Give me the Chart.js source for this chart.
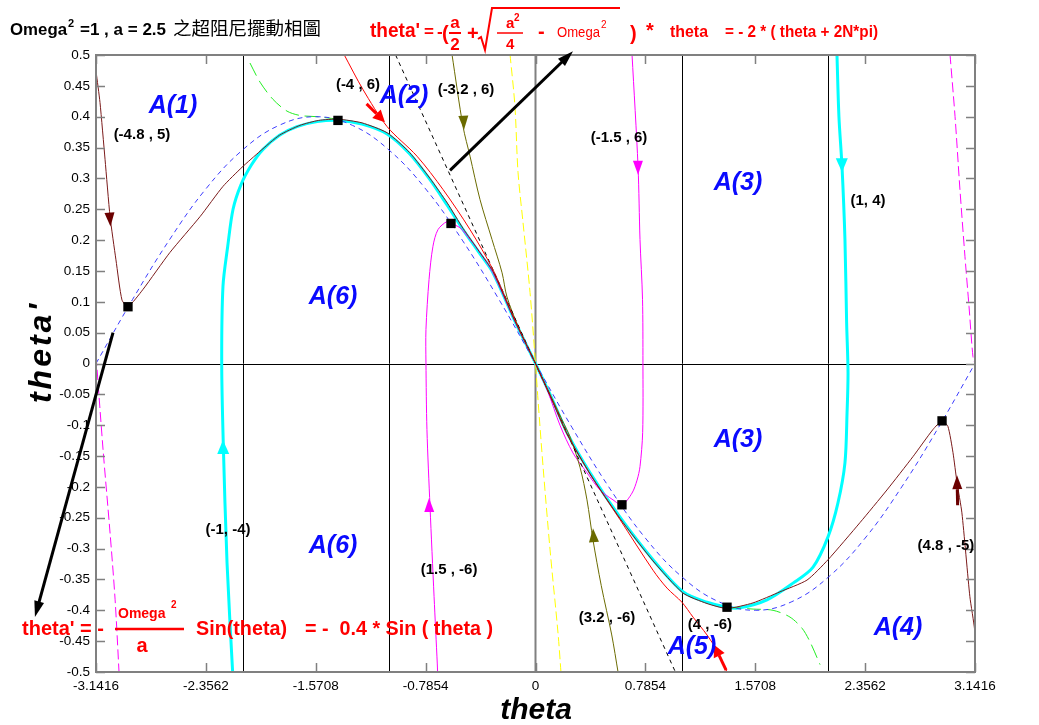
<!DOCTYPE html>
<html>
<head>
<meta charset="utf-8">
<script src="https://cdn.jsdelivr.net/npm/chart.js@4.4.0/dist/chart.umd.min.js"></script>
<style>
  body { margin: 0; background: #fff; }
</style>
</head>
<body>
<canvas id="phaseChart" width="1039" height="725"></canvas>
<script>
// axis ticks
const xTickValues = [-3.1416, -2.3562, -1.5708, -0.7854, 0, 0.7854, 1.5708, 2.3562, 3.1416]
const xTickLabels = ['-3.1416', '-2.3562', '-1.5708', '-0.7854', '0', '0.7854', '1.5708', '2.3562', '3.1416']
const yTickValues = [-0.5, -0.45, -0.4, -0.35, -0.3, -0.25, -0.2, -0.15, -0.1, -0.05, 0, 0.05, 0.1, 0.15, 0.2, 0.25, 0.3, 0.35, 0.4, 0.45, 0.5]
const yTickLabels = ['-0.5', '-0.45', '-0.4', '-0.35', '-0.3', '-0.25', '-0.2', '-0.15', '-0.1', '-0.05', '0', '0.05', '0.1', '0.15', '0.2', '0.25', '0.3', '0.35', '0.4', '0.45', '0.5']
// vertical reference lines (theta = +-pi/3, +-2pi/3)
const refLinesX = [-2.0944, -1.0472, 1.0472, 2.0944]

// theta' = -0.4 sin(theta)  (blue dashed)
const sinTheta = [-3.1416, -2.8798, -2.618, -2.3562, -2.0944, -1.8326, -1.5708, -1.309, -1.0472, -0.7854, -0.5236, -0.2618, 0, 0.2618, 0.5236, 0.7854, 1.0472, 1.309, 1.5708, 1.8326, 2.0944, 2.3562, 2.618, 2.8798, 3.1416]
const sinOmega = [0, 0.104, 0.2, 0.283, 0.346, 0.386, 0.4, 0.386, 0.346, 0.283, 0.2, 0.104, 0, -0.104, -0.2, -0.283, -0.346, -0.386, -0.4, -0.386, -0.346, -0.283, -0.2, -0.104, 0]

// theta' = -0.5 theta (black dashed)
const slowTheta = [-1, 1]
const slowOmega = [0.5, -0.5]

// trajectory from (-1, -4), cyan
const cyanLeftTheta = [-2.165, -2.205, -2.232, -2.243, -2.234, -2.2, -2.162, -2.105, -2.03, -1.948, -1.83, -1.705, -1.56, -1.412, -1.24, -1.061, -0.9, -0.754, -0.63, -0.518, -0.404, -0.304, -0.15, 0]
const cyanLeftOmega = [-0.5, -0.323, -0.128, 0, 0.125, 0.19, 0.25, 0.29, 0.322, 0.347, 0.37, 0.384, 0.392, 0.394, 0.388, 0.372, 0.34, 0.298, 0.256, 0.217, 0.18, 0.147, 0.07, 0]
// trajectory from (1, 4), cyan
const cyanRightTheta = [2.155, 2.169, 2.191, 2.212, 2.224, 2.234, 2.227, 2.212, 2.162, 2.091, 1.984, 1.841, 1.655, 1.462, 1.369, 1.226, 1.054, 0.84, 0.604, 0.39, 0.225, 0.12, 0]
const cyanRightOmega = [0.5, 0.4, 0.319, 0.201, 0.066, -0.015, -0.08, -0.161, -0.226, -0.281, -0.33, -0.356, -0.383, -0.396, -0.395, -0.387, -0.37, -0.318, -0.249, -0.177, -0.112, -0.058, 0]

// trajectory from (-4.8, 5), brown
const brownLeftTheta = [-3.141, -3.113, -3.077, -3.041, -2.999, -2.956, -2.913, -2.806, -2.613, -2.398, -2.234, -2.098, -1.969, -1.83, -1.683, -1.55, -1.412, -1.24, -1.061, -0.9, -0.754, -0.63, -0.518, -0.404, -0.304, -0.15, 0]
const brownLeftOmega = [0.473, 0.423, 0.331, 0.238, 0.168, 0.103, 0.092, 0.12, 0.18, 0.238, 0.287, 0.318, 0.344, 0.37, 0.386, 0.394, 0.396, 0.39, 0.374, 0.342, 0.3, 0.26, 0.219, 0.182, 0.149, 0.07, 0]
// trajectory from (4.8, -5), brown
const brownRightTheta = [3.141, 3.139, 3.105, 3.048, 3.013, 2.984, 2.948, 2.906, 2.841, 2.698, 2.512, 2.319, 2.091, 1.941, 1.748, 1.555, 1.369, 1.226, 1.054, 0.84, 0.604, 0.39, 0.225, 0.12, 0]
const brownRightOmega = [-0.476, -0.432, -0.378, -0.242, -0.193, -0.144, -0.102, -0.093, -0.107, -0.151, -0.205, -0.258, -0.318, -0.351, -0.37, -0.388, -0.397, -0.389, -0.372, -0.32, -0.251, -0.179, -0.114, -0.06, 0]

// trajectories from (-4, 6) and (4, -6), red
const redUpperTheta = [-1.369, -1.233, -1.061, -0.847, -0.661, -0.468, -0.304, -0.15, 0]
const redUpperOmega = [0.501, 0.444, 0.384, 0.336, 0.282, 0.217, 0.152, 0.072, 0]
const redLowerTheta = [1.369, 1.305, 1.226, 1.126, 1.047, 0.94, 0.84, 0.604, 0.39, 0.225, 0.12, 0]
const redLowerOmega = [-0.5, -0.468, -0.44, -0.411, -0.387, -0.364, -0.335, -0.253, -0.179, -0.114, -0.06, 0]

// trajectories from (-3.2, 6) and (3.2, -6), olive
const oliveUpperTheta = [-0.597, -0.518, -0.468, -0.397, -0.311, -0.239, -0.204, -0.12, 0]
const oliveUpperOmega = [0.501, 0.384, 0.336, 0.266, 0.201, 0.147, 0.108, 0.058, 0]
const oliveLowerTheta = [0.59, 0.545, 0.47, 0.411, 0.368, 0.318, 0.247, 0.189, 0.104, 0]
const oliveLowerOmega = [-0.5, -0.44, -0.36, -0.286, -0.221, -0.168, -0.119, -0.091, -0.05, 0]

// fast direction, yellow dashed
const yellowTheta = [-0.182, -0.147, -0.125, -0.089, -0.039, 0, 0.018, 0.054, 0.104, 0.161, 0.182]
const yellowOmega = [0.501, 0.417, 0.31, 0.228, 0.115, 0, -0.059, -0.167, -0.302, -0.437, -0.5]

// trajectories from (-1.5, 6) and (1.5, -6), magenta
const magentaUpperTheta = [0.69, 0.733, 0.747, 0.765, 0.768, 0.766, 0.747, 0.726, 0.69, 0.618, 0.554, 0.461, 0.368, 0.268, 0.175, 0.089, 0]
const magentaUpperOmega = [0.501, 0.319, 0.201, 0.104, 0.001, -0.112, -0.167, -0.189, -0.21, -0.229, -0.221, -0.205, -0.177, -0.145, -0.1, -0.046, 0]
const magentaLowerTheta = [-0.7, -0.702, -0.725, -0.754, -0.776, -0.783, -0.783, -0.761, -0.733, -0.697, -0.633, -0.604, -0.54, -0.468, -0.397, -0.304, -0.15, 0]
const magentaLowerOmega = [-0.5, -0.487, -0.378, -0.232, -0.107, 0.001, 0.055, 0.136, 0.19, 0.217, 0.23, 0.227, 0.22, 0.201, 0.18, 0.147, 0.07, 0]

// edge trajectories, magenta dashed
const magentaEdgeLeftTheta = [-3.141, -3.091, -3.041, -3.005, -2.977]
const magentaEdgeLeftOmega = [0.012, -0.14, -0.275, -0.383, -0.5]
const magentaEdgeRightTheta = [2.963, 2.999, 3.034, 3.07, 3.099, 3.127, 3.141]
const magentaEdgeRightOmega = [0.501, 0.4, 0.282, 0.173, 0.092, 0.011, 0]

// green dashed
const greenUpperTheta = [-2.041, -1.969, -1.876, -1.776, -1.683, -1.562, -1.412]
const greenUpperOmega = [0.487, 0.456, 0.428, 0.409, 0.402, 0.4, 0.396]
const greenLowerTheta = [1.369, 1.555, 1.698, 1.819, 1.905, 1.962, 2.034]
const greenLowerOmega = [-0.395, -0.398, -0.4, -0.411, -0.429, -0.451, -0.488]

// square markers
const markerTheta = [-2.913, -1.412, -0.604, 0.618, 1.369, 2.906]
const markerOmega = [0.092, 0.394, 0.227, -0.229, -0.395, -0.093]

const FONT = '"Liberation Sans", Arial, sans-serif'
const CJK = '"Noto Sans CJK TC", "Noto Sans CJK SC", sans-serif'

const pts = (t, w) => t.map((v, i) => ({ x: v, y: w[i] }))

const curve = (t, w, color, width, dash, order, tension) => ({
    type: 'line',
    data: pts(t, w),
    borderColor: color,
    borderWidth: width,
    borderDash: dash || [],
    pointRadius: 0,
    pointHitRadius: 0,
    fill: false,
    tension: tension === undefined ? 0.3 : tension,
    order: order,
})

// arrow heads on the trajectories, in data units
const curveArrows = [
    { tip: [-3.038, 0.222], from: [-3.063, 0.3], color: '#6b0000', len: 14, half: 5 },
    { tip: [3.013, -0.181], from: [3.02, -0.26], color: '#6b0000', len: 14, half: 5, shaft: 16 },
    { tip: [-1.076, 0.391], from: [-1.204, 0.42], color: '#ff0000', len: 12, half: 6, shaft: 14 },
    { tip: [1.276, -0.456], from: [1.369, -0.5], color: '#ff0000', len: 12, half: 6, shaft: 16 },
    { tip: [-0.511, 0.379], from: [-0.524, 0.44], color: '#6b6b00', len: 14, half: 5 },
    { tip: [0.411, -0.267], from: [0.43, -0.33], color: '#6b6b00', len: 14, half: 5 },
    { tip: [0.733, 0.306], from: [0.73, 0.38], color: '#ff00ff', len: 14, half: 5 },
    { tip: [-0.761, -0.218], from: [-0.755, -0.3], color: '#ff00ff', len: 14, half: 5 },
    { tip: [2.191, 0.31], from: [2.186, 0.38], color: '#00ffff', len: 14, half: 6 },
    { tip: [-2.234, -0.124], from: [-2.228, -0.2], color: '#00ffff', len: 14, half: 6 },
]

// thick black pointer arrows (tail -> head), data units
const pointerArrows = [
    { from: [-0.611, 0.313], to: [0.268, 0.506] },
    { from: [-3.02, 0.05], to: [-3.578, -0.411] },
]

const regionLabels = [
    ['A(1)', -2.591, 0.417], ['A(2)', -0.94, 0.433], ['A(3)', 1.447, 0.293], ['A(3)', 1.447, -0.124],
    ['A(4)', 2.591, -0.429], ['A(5)', 1.119, -0.46], ['A(6)', -1.447, 0.108], ['A(6)', -1.447, -0.296],
]

const startLabels = [
    ['(-4.8 , 5)', -2.813, 0.371, 60], ['(-4 , 6)', -1.269, 0.452, 47], ['(-3.2 , 6)', -0.497, 0.444, 58],
    ['(-1.5 , 6)', 0.597, 0.366, 58], ['(1, 4)', 2.377, 0.264, 37], ['(-1, -4)', -2.198, -0.27, 49],
    ['(1.5 , -6)', -0.618, -0.335, 58], ['(3.2 , -6)', 0.511, -0.413, 60], ['(4 , -6)', 1.247, -0.424, 45],
    ['(4.8 , -5)', 2.934, -0.296, 58],
]

function put (ctx, s, x, y, size, opts) {
    opts = opts || {}
    ctx.font = (opts.style || 'bold') + ' ' + size + 'px ' + (opts.family || FONT)
    ctx.fillStyle = opts.color || '#000'
    ctx.textAlign = opts.align || 'left'
    ctx.textBaseline = opts.baseline || 'alphabetic'
    if (opts.maxWidth) {
        ctx.fillText(s, x, y, opts.maxWidth)
    } else {
        ctx.fillText(s, x, y)
    }
}

function head (ctx, tx, ty, fx, fy, len, half, color) {
    const ang = Math.atan2(ty - fy, tx - fx)
    const c = Math.cos(ang), s = Math.sin(ang)
    ctx.fillStyle = color
    ctx.beginPath()
    ctx.moveTo(tx, ty)
    ctx.lineTo(tx - len * c + half * s, ty - len * s - half * c)
    ctx.lineTo(tx - len * c - half * s, ty - len * s + half * c)
    ctx.closePath()
    ctx.fill()
}

function hline (ctx, x1, x2, y, w, color) {
    ctx.strokeStyle = color
    ctx.lineWidth = w
    ctx.beginPath()
    ctx.moveTo(x1, y)
    ctx.lineTo(x2, y)
    ctx.stroke()
}

const decorations = {
    id: 'decorations',
    beforeDatasetsDraw (chart) {
        const { ctx, chartArea: a, scales: { x, y } } = chart
        ctx.save()
        ctx.lineWidth = 1
        ctx.strokeStyle = '#000'
        refLinesX.forEach(v => {
            const px = Math.round(x.getPixelForValue(v)) + 0.5
            ctx.beginPath()
            ctx.moveTo(px, a.top)
            ctx.lineTo(px, a.bottom)
            ctx.stroke()
        })
        const py = Math.round(y.getPixelForValue(0)) + 0.5
        hline(ctx, a.left, a.right, py, 1, '#000')
        const px0 = x.getPixelForValue(0)
        ctx.strokeStyle = '#808080'
        ctx.lineWidth = 2
        ctx.beginPath()
        ctx.moveTo(px0, a.top)
        ctx.lineTo(px0, a.bottom)
        ctx.stroke()
        ctx.restore()
    },
    afterDraw (chart) {
        const { ctx, chartArea: a, scales: { x, y } } = chart
        const X = v => x.getPixelForValue(v)
        const Y = v => y.getPixelForValue(v)
        ctx.save()

        // box and inward ticks
        ctx.strokeStyle = '#808080'
        ctx.lineWidth = 2
        ctx.strokeRect(a.left, a.top, a.right - a.left, a.bottom - a.top)
        ctx.lineWidth = 1.5
        ctx.beginPath()
        xTickValues.forEach(v => {
            const px = Math.round(X(v)) + 0.5
            ctx.moveTo(px, a.bottom); ctx.lineTo(px, a.bottom - 9)
            ctx.moveTo(px, a.top); ctx.lineTo(px, a.top + 9)
        })
        yTickValues.forEach(v => {
            const py = Math.round(Y(v)) + 0.5
            ctx.moveTo(a.left, py); ctx.lineTo(a.left + 9, py)
            ctx.moveTo(a.right, py); ctx.lineTo(a.right - 9, py)
        })
        ctx.stroke()

        // arrow heads on the trajectories
        curveArrows.forEach(ar => {
            const tx = X(ar.tip[0]), ty = Y(ar.tip[1])
            const fx = X(ar.from[0]), fy = Y(ar.from[1])
            if (ar.shaft) {
                const d = Math.hypot(tx - fx, ty - fy)
                ctx.strokeStyle = ar.color
                ctx.lineWidth = 3
                ctx.beginPath()
                ctx.moveTo(tx - (tx - fx) / d * (ar.len + ar.shaft), ty - (ty - fy) / d * (ar.len + ar.shaft))
                ctx.lineTo(tx - (tx - fx) / d * ar.len, ty - (ty - fy) / d * ar.len)
                ctx.stroke()
            }
            head(ctx, tx, ty, fx, fy, ar.len, ar.half, ar.color)
        })

        // black pointer arrows
        pointerArrows.forEach(ar => {
            const fx = X(ar.from[0]), fy = Y(ar.from[1])
            const tx = X(ar.to[0]), ty = Y(ar.to[1])
            const d = Math.hypot(tx - fx, ty - fy)
            ctx.strokeStyle = '#000'
            ctx.lineWidth = 3
            ctx.beginPath()
            ctx.moveTo(fx, fy)
            ctx.lineTo(tx - (tx - fx) / d * 10, ty - (ty - fy) / d * 10)
            ctx.stroke()
            head(ctx, tx, ty, fx, fy, 16, 5, '#000')
        })

        // region labels and start points
        regionLabels.forEach(l => put(ctx, l[0], X(l[1]), Y(l[2]), 25,
            { style: 'italic bold', color: '#0a0aff', align: 'center', baseline: 'middle' }))
        startLabels.forEach(l => put(ctx, l[0], X(l[1]), Y(l[2]), 15,
            { align: 'center', baseline: 'middle', maxWidth: l[3] }))

        // axis titles
        put(ctx, 'theta', 536, 719, 30, { style: 'italic bold', align: 'center' })
        ctx.save()
        ctx.translate(51, 352)
        ctx.rotate(-Math.PI / 2)
        ctx.letterSpacing = '3px'
        put(ctx, "theta'", 0, 0, 32, { style: 'italic bold', align: 'center' })
        ctx.restore()

        // title
        put(ctx, 'Omega', 10, 35, 17, { maxWidth: 57 })
        put(ctx, '2', 68, 27, 11)
        put(ctx, '=1 , a = 2.5', 80, 35, 17, { maxWidth: 88 })
        put(ctx, '之超阻尼擺動相圖', 173, 35, 18.5, { style: 'normal', family: CJK, maxWidth: 149 })

        // top equation
        const red = '#ff0000'
        put(ctx, "theta'", 370, 37, 20, { color: red, maxWidth: 50 })
        put(ctx, '=', 424, 37, 17, { color: red })
        put(ctx, '-', 437, 37, 17, { color: red })
        put(ctx, '(', 442, 40, 20, { color: red })
        put(ctx, 'a', 455, 28, 17, { color: red, align: 'center' })
        hline(ctx, 449, 461, 33, 2, red)
        put(ctx, '2', 455, 50, 17, { color: red, align: 'center' })
        put(ctx, '+', 467, 40, 20, { color: red })
        ctx.strokeStyle = red
        ctx.lineWidth = 2
        ctx.beginPath()
        ctx.moveTo(478, 39)
        ctx.lineTo(481, 37)
        ctx.lineTo(485, 50)
        ctx.lineTo(492, 8)
        ctx.lineTo(620, 8)
        ctx.stroke()
        put(ctx, 'a', 506, 28, 15, { color: red })
        put(ctx, '2', 514, 21, 10, { color: red })
        hline(ctx, 497, 523, 33, 1.5, red)
        put(ctx, '4', 506, 49, 15, { color: red })
        put(ctx, '-', 538, 38, 20, { color: red })
        put(ctx, 'Omega', 557, 37, 14, { style: 'normal', color: red, maxWidth: 43 })
        put(ctx, '2', 601, 28, 10, { style: 'normal', color: red })
        put(ctx, ')', 630, 40, 20, { color: red })
        put(ctx, '*', 646, 37, 20, { color: red })
        put(ctx, 'theta', 670, 37, 17, { color: red, maxWidth: 38 })
        put(ctx, '= - 2 * ( theta + 2N*pi)', 725, 37, 17, { color: red, maxWidth: 153 })

        // bottom equation
        put(ctx, "theta' = -", 22, 635, 20, { color: red, maxWidth: 84 })
        put(ctx, 'Omega', 118, 618, 14, { color: red, maxWidth: 50 })
        put(ctx, '2', 171, 608, 10, { color: red })
        hline(ctx, 115, 184, 629, 2.5, red)
        put(ctx, 'a', 142, 652, 20, { color: red, align: 'center' })
        put(ctx, 'Sin(theta)', 196, 635, 20, { color: red, maxWidth: 91 })
        put(ctx, '= -  0.4 * Sin ( theta )', 305, 635, 20, { color: red, maxWidth: 188 })

        ctx.restore()
    },
}

const datasets = [
    {
        type: 'scatter',
        data: pts(markerTheta, markerOmega),
        pointStyle: 'rect',
        pointRadius: 6.6,
        backgroundColor: '#000',
        borderColor: '#000',
        borderWidth: 0,
        order: 0,
    },
    curve(brownLeftTheta, brownLeftOmega, '#7a1a1a', 1, null, 1, 0.2),
    curve(brownRightTheta, brownRightOmega, '#7a1a1a', 1, null, 1, 0.2),
    curve(redUpperTheta, redUpperOmega, '#ff0000', 1, null, 2),
    curve(redLowerTheta, redLowerOmega, '#ff0000', 1, null, 2),
    curve(sinTheta, sinOmega, '#3c3cff', 1, [5, 4], 3, 0.4),
    curve(slowTheta, slowOmega, '#000', 1, [4, 4], 4, 0),
    curve(oliveUpperTheta, oliveUpperOmega, '#6b6b00', 1, null, 5),
    curve(oliveLowerTheta, oliveLowerOmega, '#6b6b00', 1, null, 5),
    curve(magentaUpperTheta, magentaUpperOmega, '#ff00ff', 1, null, 6),
    curve(magentaLowerTheta, magentaLowerOmega, '#ff00ff', 1, null, 6),
    curve(greenUpperTheta, greenUpperOmega, '#22ee22', 1, [14, 6], 7),
    curve(greenLowerTheta, greenLowerOmega, '#22ee22', 1, [14, 6], 7),
    curve(yellowTheta, yellowOmega, '#ffff00', 1, [9, 4], 8),
    curve(magentaEdgeLeftTheta, magentaEdgeLeftOmega, '#ff00ff', 1, [10, 4], 9),
    curve(magentaEdgeRightTheta, magentaEdgeRightOmega, '#ff00ff', 1, [10, 4], 9),
    curve(cyanLeftTheta, cyanLeftOmega, '#00ffff', 3, null, 10),
    curve(cyanRightTheta, cyanRightOmega, '#00ffff', 3, null, 10),
]

const tickFont = { family: FONT, size: 13.5 }

new Chart(document.getElementById('phaseChart'), {
    type: 'line',
    data: { datasets: datasets },
    options: {
        responsive: false,
        animation: false,
        devicePixelRatio: 1,
        events: [],
        layout: { padding: { top: 55, right: 64, left: 0, bottom: 0 } },
        plugins: {
            legend: { display: false },
            tooltip: { enabled: false },
        },
        scales: {
            x: {
                type: 'linear',
                min: -3.1416,
                max: 3.1416,
                afterBuildTicks: s => { s.ticks = xTickValues.map(v => ({ value: v })) },
                afterFit: s => { s.height = 53 },
                grid: { display: false, drawTicks: false },
                border: { display: false },
                ticks: {
                    autoSkip: false,
                    maxRotation: 0,
                    padding: 6,
                    color: '#000',
                    font: tickFont,
                    callback: (v, i) => xTickLabels[i],
                },
            },
            y: {
                type: 'linear',
                min: -0.5,
                max: 0.5,
                afterBuildTicks: s => { s.ticks = yTickValues.map(v => ({ value: v })) },
                afterFit: s => { s.width = 96 },
                grid: { display: false, drawTicks: false },
                border: { display: false },
                ticks: {
                    autoSkip: false,
                    padding: 6,
                    color: '#000',
                    font: tickFont,
                    callback: (v, i) => yTickLabels[i],
                },
            },
        },
    },
    plugins: [decorations],
})
</script>
</body>
</html>
